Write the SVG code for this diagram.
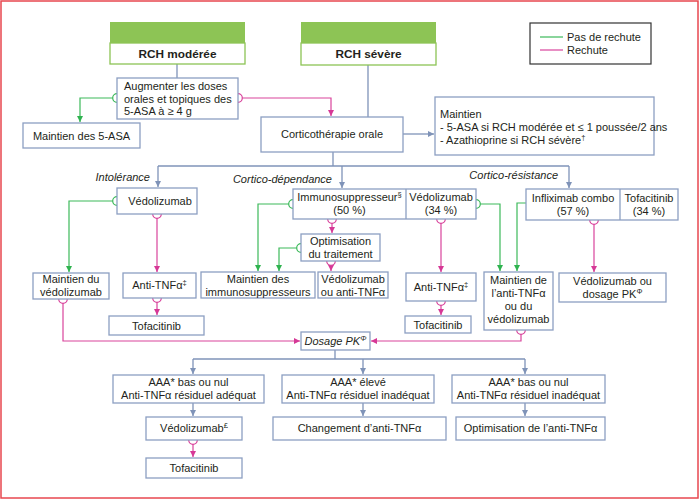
<svg xmlns="http://www.w3.org/2000/svg" width="700" height="500" viewBox="0 0 700 500">
<style>
text{font-family:"Liberation Sans",Arial,sans-serif;font-size:11px;fill:#231f20}
.c{text-anchor:middle}
.i{font-style:italic}
.b{font-weight:bold;font-size:11.8px}
.box{fill:#fff;stroke:#8c9fc2;stroke-width:1.3}
.gh{fill:#8dc455}
.gw{fill:#fff;stroke:#8dc455;stroke-width:1.3}
.ln{fill:none;stroke:#7f93b8;stroke-width:1.3}
.gr{fill:none;stroke:#3cb95a;stroke-width:1.2}
.pk{fill:none;stroke:#d9449c;stroke-width:1.2}
.cg{fill:#fff;stroke:#3cb95a;stroke-width:1.2}
.cp{fill:#fff;stroke:#d9449c;stroke-width:1.2}
.sup{font-size:7.5px}
</style>
<defs>
<marker id="ab" markerUnits="userSpaceOnUse" markerWidth="7" markerHeight="7" refX="6" refY="3" orient="auto"><path d="M0,0 L6,3 L0,6 z" fill="#7f93b8"/></marker>
<marker id="ag" markerUnits="userSpaceOnUse" markerWidth="7" markerHeight="7" refX="6" refY="3" orient="auto"><path d="M0,0 L6,3 L0,6 z" fill="#2fb34f"/></marker>
<marker id="ap" markerUnits="userSpaceOnUse" markerWidth="7" markerHeight="7" refX="6" refY="3" orient="auto"><path d="M0,0 L6,3 L0,6 z" fill="#d63896"/></marker>
</defs>
<rect x="1" y="1" width="697" height="497" fill="#fff" stroke="#e8474f" stroke-width="1.5"/>

<g id="connectors">
<path class="ln" d="M177,64 V78"/>
<path class="ln" d="M368,65 V117"/>
<path class="ln" d="M403,134 H434" marker-end="url(#ab)"/>
<path class="ln" d="M333,152 V166"/>
<path class="ln" d="M158,166 H569"/>
<path class="ln" d="M158,166 V187" marker-end="url(#ab)"/>
<path class="ln" d="M342,166 V188" marker-end="url(#ab)"/>
<path class="ln" d="M569,166 V188" marker-end="url(#ab)"/>
<path class="ln" d="M335,350 V359"/>
<path class="ln" d="M193,359 H525"/>
<path class="ln" d="M193,359 V374" marker-end="url(#ab)"/>
<path class="ln" d="M363,359 V374" marker-end="url(#ab)"/>
<path class="ln" d="M525,359 V374" marker-end="url(#ab)"/>
<path class="ln" d="M193,403 V416" marker-end="url(#ab)"/>
<path class="ln" d="M363,403 V416" marker-end="url(#ab)"/>
<path class="ln" d="M525,403 V416" marker-end="url(#ab)"/>

<path class="gr" d="M113,98 H80 V122" marker-end="url(#ag)"/>
<path class="gr" d="M113,201 H69 V272" marker-end="url(#ag)"/>
<path class="gr" d="M289,204 H258 V271" marker-end="url(#ag)"/>
<path class="gr" d="M297,248 H279 V271" marker-end="url(#ag)"/>
<path class="gr" d="M480,204 H500 V271" marker-end="url(#ag)"/>
<path class="gr" d="M526,203 H517 V271" marker-end="url(#ag)"/>

<path class="pk" d="M242,98 H331 V116" marker-end="url(#ap)"/>
<path class="pk" d="M157,218 V272" marker-end="url(#ap)"/>
<path class="pk" d="M157,302 V315" marker-end="url(#ap)"/>
<path class="pk" d="M63,303 V341 H300" marker-end="url(#ap)"/>
<path class="pk" d="M332,223 V233" marker-end="url(#ap)"/>
<path class="pk" d="M331,265 V271" marker-end="url(#ap)"/>
<path class="pk" d="M441,223 V272" marker-end="url(#ap)"/>
<path class="pk" d="M441,305 V315" marker-end="url(#ap)"/>
<path class="pk" d="M594,224 V272" marker-end="url(#ap)"/>
<path class="pk" d="M521,334 V341 H371" marker-end="url(#ap)"/>
<path class="pk" d="M193,444 V457" marker-end="url(#ap)"/>

<circle class="cg" cx="117" cy="98" r="4.3"/>
<circle class="cg" cx="117" cy="201" r="4.3"/>
<circle class="cg" cx="293" cy="204" r="4.3"/>
<circle class="cg" cx="301" cy="248" r="4.3"/>
<circle class="cg" cx="476" cy="204" r="4.3"/>
<circle class="cp" cx="238" cy="98" r="4.3"/>
<circle class="cp" cx="157" cy="214" r="4.3"/>
<circle class="cp" cx="157" cy="298" r="4.3"/>
<circle class="cp" cx="63" cy="299" r="4.3"/>
<circle class="cp" cx="332" cy="219" r="4.3"/>
<circle class="cp" cx="331" cy="261" r="4.3"/>
<circle class="cp" cx="441" cy="219" r="4.3"/>
<circle class="cp" cx="441" cy="301" r="4.3"/>
<circle class="cp" cx="594" cy="220" r="4.3"/>
<circle class="cp" cx="521" cy="330" r="4.3"/>
<circle class="cp" cx="193" cy="440" r="4.3"/>
</g>

<g id="rch-moderee">
<rect class="gh" x="110" y="22" width="135" height="21"/>
<rect class="gw" x="110" y="43" width="135" height="21"/>
<text class="c b" x="177.5" y="58">RCH modérée</text>
</g>
<g id="rch-severe">
<rect class="gh" x="301" y="22" width="135" height="21"/>
<rect class="gw" x="301" y="43" width="135" height="22"/>
<text class="c b" x="368.5" y="58">RCH sévère</text>
</g>
<g id="legend">
<rect x="530" y="23" width="121" height="41" fill="#fff" stroke="#333" stroke-width="1.2"/>
<line x1="540" y1="37" x2="563" y2="37" stroke="#3cb95a" stroke-width="1.2"/>
<line x1="540" y1="50" x2="563" y2="50" stroke="#d9449c" stroke-width="1.2"/>
<text x="567" y="41">Pas de rechute</text>
<text x="567" y="54">Rechute</text>
</g>
<g id="augmenter">
<rect class="box" x="117" y="78" width="121" height="41"/>
<text x="124" y="90">Augmenter les doses</text>
<text x="124" y="103">orales et topiques des</text>
<text x="124" y="115">5-ASA à ≥ 4 g</text>
</g>
<g id="maintien-5asa">
<rect class="box" x="23" y="123" width="117" height="25"/>
<text class="c" x="81.5" y="140">Maintien des 5-ASA</text>
</g>
<g id="corticotherapie">
<rect class="box" x="261" y="117" width="142" height="35"/>
<text class="c" x="332" y="138">Corticothérapie orale</text>
</g>
<g id="maintien">
<rect class="box" x="435" y="97" width="219" height="58"/>
<text x="440" y="118">Maintien</text>
<text x="440" y="131">- 5-ASA si RCH modérée et ≤ 1 poussée/2 ans</text>
<text x="440" y="144">- Azathioprine si RCH sévère<tspan class="sup" dy="-4">†</tspan></text>
</g>
<g id="labels">
<text class="i" x="150" y="181" text-anchor="end">Intolérance</text>
<text class="i" x="332" y="183" text-anchor="end">Cortico-dépendance</text>
<text class="i" x="558" y="179" text-anchor="end">Cortico-résistance</text>
</g>
<g id="vedolizumab-intol">
<rect class="box" x="117" y="188" width="80" height="26"/>
<text class="c" x="160" y="205">Védolizumab</text>
</g>
<g id="immuno-vedo">
<rect class="box" x="293" y="189" width="183" height="30"/>
<line x1="406" y1="189" x2="406" y2="219" stroke="#8c9fc2" stroke-width="1.3"/>
<text class="c" x="349.5" y="201">Immunosuppresseur<tspan class="sup" dy="-4">§</tspan></text>
<text class="c" x="349.5" y="214">(50 %)</text>
<text class="c" x="441" y="201">Védolizumab</text>
<text class="c" x="441" y="214">(34 %)</text>
</g>
<g id="infliximab-tofa">
<rect class="box" x="526" y="189" width="152" height="31"/>
<line x1="620" y1="189" x2="620" y2="220" stroke="#8c9fc2" stroke-width="1.3"/>
<text class="c" x="573" y="202">Infliximab combo</text>
<text class="c" x="573" y="215">(57 %)</text>
<text class="c" x="649" y="202">Tofacitinib</text>
<text class="c" x="649" y="215">(34 %)</text>
</g>
<g id="maintien-vedo">
<rect class="box" x="33" y="273" width="76" height="26"/>
<text class="c" x="71" y="283">Maintien du</text>
<text class="c" x="71" y="296">védolizumab</text>
</g>
<g id="antitnf-left">
<rect class="box" x="123" y="273" width="73" height="25"/>
<text class="c" x="159.5" y="289">Anti-TNFα<tspan class="sup" dy="-4">‡</tspan></text>
</g>
<g id="tofa-left">
<rect class="box" x="109" y="316" width="95" height="19"/>
<text class="c" x="156.5" y="329.5">Tofacitinib</text>
</g>
<g id="optimisation">
<rect class="box" x="301" y="234" width="79" height="27"/>
<text class="c" x="340.5" y="245">Optimisation</text>
<text class="c" x="340.5" y="257.5">du traitement</text>
</g>
<g id="maintien-immuno">
<rect class="box" x="201" y="272" width="114" height="26"/>
<text class="c" x="258" y="283">Maintien des</text>
<text class="c" x="258" y="296">immunosuppresseurs</text>
</g>
<g id="vedo-ou-antitnf">
<rect class="box" x="318" y="272" width="70" height="26"/>
<text class="c" x="353" y="283">Védolizumab</text>
<text class="c" x="353" y="296">ou anti-TNFα</text>
</g>
<g id="antitnf-mid">
<rect class="box" x="406" y="273" width="70" height="28"/>
<text class="c" x="441" y="291">Anti-TNFα<tspan class="sup" dy="-4">‡</tspan></text>
</g>
<g id="tofa-mid">
<rect class="box" x="405" y="316" width="66" height="17"/>
<text class="c" x="438" y="328.5">Tofacitinib</text>
</g>
<g id="maintien-antitnf">
<rect class="box" x="484" y="272" width="69" height="58"/>
<text class="c" x="518.5" y="284">Maintien de</text>
<text class="c" x="518.5" y="297">l’anti-TNFα</text>
<text class="c" x="518.5" y="310">ou du</text>
<text class="c" x="518.5" y="323">védolizumab</text>
</g>
<g id="vedo-ou-dosage">
<rect class="box" x="559" y="273" width="107" height="29"/>
<text class="c" x="612.5" y="285">Védolizumab ou</text>
<text class="c" x="612.5" y="298">dosage PK<tspan class="sup" dy="-4">Φ</tspan></text>
</g>
<g id="dosage-pk">
<rect class="box" x="301" y="332" width="69" height="18"/>
<text class="c i" x="335.5" y="345">Dosage PK<tspan class="sup" dy="-4">Φ</tspan></text>
</g>
<g id="aaa1">
<rect class="box" x="113" y="375" width="151" height="28"/>
<text class="c" x="188.5" y="386">AAA* bas ou nul</text>
<text class="c" x="188.5" y="399">Anti-TNFα résiduel adéquat</text>
</g>
<g id="aaa2">
<rect class="box" x="282" y="375" width="152" height="28"/>
<text class="c" x="358" y="386">AAA* élevé</text>
<text class="c" x="358" y="399">Anti-TNFα résiduel inadéquat</text>
</g>
<g id="aaa3">
<rect class="box" x="452" y="375" width="153" height="28"/>
<text class="c" x="528.5" y="386">AAA* bas ou nul</text>
<text class="c" x="528.5" y="399">Anti-TNFα résiduel inadéquat</text>
</g>
<g id="vedo-bottom">
<rect class="box" x="146" y="417" width="96" height="23"/>
<text class="c" x="194" y="432">Védolizumab<tspan class="sup" dy="-4">£</tspan></text>
</g>
<g id="changement">
<rect class="box" x="273" y="417" width="173" height="23"/>
<text class="c" x="359.5" y="432">Changement d’anti-TNFα</text>
</g>
<g id="optim-antitnf">
<rect class="box" x="456" y="417" width="149" height="23"/>
<text class="c" x="530.5" y="432">Optimisation de l’anti-TNFα</text>
</g>
<g id="tofa-bottom">
<rect class="box" x="146" y="458" width="96" height="20"/>
<text class="c" x="194" y="472">Tofacitinib</text>
</g>
</svg>
